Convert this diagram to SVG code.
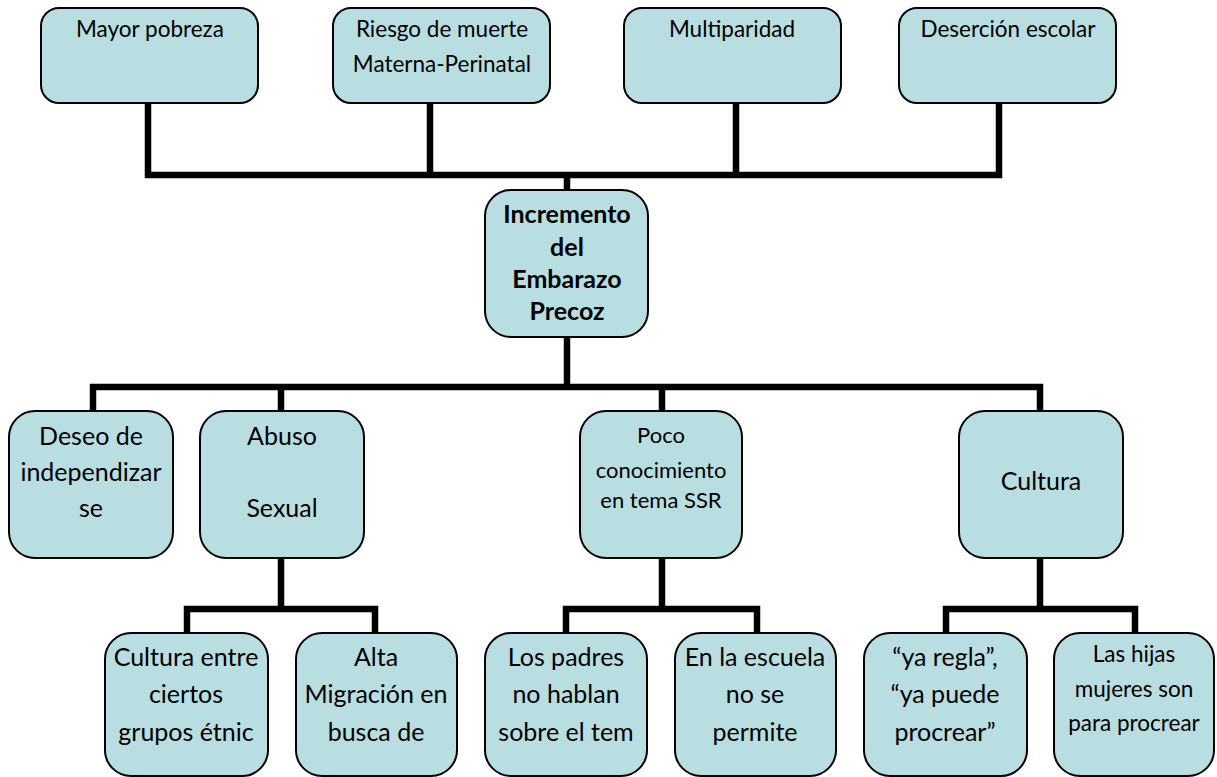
<svg xmlns="http://www.w3.org/2000/svg" width="1217" height="777" viewBox="0 0 1217 777">
<style>
.box{fill:#B8DEE1;stroke:#000;stroke-width:2}
.t{font-family:Lato,"Liberation Sans",sans-serif;fill:#000;text-anchor:middle}
.s22{font-size:22.5px}
.s25{font-size:25px}
.s23{font-size:22px}
.b{font-weight:bold;font-size:25px}
.c{fill:none;stroke:#000;stroke-width:6.5;stroke-linejoin:miter;stroke-linecap:butt}
</style>
<rect width="1217" height="777" fill="#fff"/>
<g id="connectors">
<path class="c" d="M148,103 V175 H999 V103"/>
<path class="c" d="M430,103 V175 M736,103 V175 M567,175 V190"/>
<path class="c" d="M567,337 V387"/>
<path class="c" d="M93,411 V387 H1040 V411"/>
<path class="c" d="M281,387 V411 M662,387 V411"/>
<path class="c" d="M281,558 V609"/>
<path class="c" d="M187,633 V609 H375 V633"/>
<path class="c" d="M662,558 V609"/>
<path class="c" d="M566,633 V609 H757 V633"/>
<path class="c" d="M1040,558 V609"/>
<path class="c" d="M946,633 V609 H1135 V633"/>
</g>
<g id="n-mayor">
<rect class="box" x="41" y="8" width="217" height="95" rx="18"/>
<text class="t s22" x="150" y="37">Mayor pobreza</text>
</g>
<g id="n-riesgo">
<rect class="box" x="333" y="8" width="217" height="95" rx="18"/>
<text class="t s22" x="442" y="37">Riesgo de muerte</text>
<text class="t s22" x="442" y="72">Materna-Perinatal</text>
</g>
<g id="n-multi">
<rect class="box" x="624" y="8" width="217" height="95" rx="18"/>
<text class="t s22" x="732" y="37">Multiparidad</text>
</g>
<g id="n-desercion">
<rect class="box" x="899" y="8" width="217" height="95" rx="18"/>
<text class="t s22" x="1008" y="37">Deserción escolar</text>
</g>
<g id="n-center">
<rect class="box" x="485" y="190" width="163" height="147" rx="26"/>
<text class="t b" x="567" y="223">Incremento</text>
<text class="t b" x="567" y="256">del</text>
<text class="t b" x="567" y="288">Embarazo</text>
<text class="t b" x="567" y="320">Precoz</text>
</g>
<g id="n-deseo">
<rect class="box" x="9" y="411" width="164" height="147" rx="26"/>
<text class="t s25" x="91" y="445">Deseo de</text>
<text class="t s25" x="91" y="481">independizar</text>
<text class="t s25" x="91" y="517">se</text>
</g>
<g id="n-abuso">
<rect class="box" x="200" y="411" width="164" height="147" rx="26"/>
<text class="t s25" x="282" y="445">Abuso</text>
<text class="t s25" x="282" y="517">Sexual</text>
</g>
<g id="n-poco">
<rect class="box" x="580" y="411" width="162" height="147" rx="26"/>
<text class="t s23" x="661" y="443">Poco</text>
<text class="t s23" x="661" y="478">conocimiento</text>
<text class="t s23" x="661" y="508">en tema SSR</text>
</g>
<g id="n-cultura">
<rect class="box" x="959" y="411" width="164" height="147" rx="26"/>
<text class="t s25" x="1041" y="490">Cultura</text>
</g>
<g id="n-etnic">
<rect class="box" x="105" y="633" width="163" height="143" rx="26"/>
<text class="t s25" x="186" y="666">Cultura entre</text>
<text class="t s25" x="186" y="703">ciertos</text>
<text class="t s25" x="186" y="741">grupos étnic</text>
</g>
<g id="n-migracion">
<rect class="box" x="296" y="633" width="161" height="143" rx="26"/>
<text class="t s25" x="376" y="666">Alta</text>
<text class="t s25" x="376" y="703">Migración en</text>
<text class="t s25" x="376" y="741">busca de</text>
</g>
<g id="n-padres">
<rect class="box" x="485" y="633" width="162" height="143" rx="26"/>
<text class="t s25" x="566" y="666">Los padres</text>
<text class="t s25" x="566" y="703">no hablan</text>
<text class="t s25" x="566" y="741">sobre el tem</text>
</g>
<g id="n-escuela">
<rect class="box" x="675" y="633" width="161" height="143" rx="26"/>
<text class="t s25" x="755" y="666">En la escuela</text>
<text class="t s25" x="755" y="703">no se</text>
<text class="t s25" x="755" y="741">permite</text>
</g>
<g id="n-regla">
<rect class="box" x="864" y="633" width="163" height="143" rx="26"/>
<text class="t s25" x="945" y="666">“ya regla”,</text>
<text class="t s25" x="945" y="703">“ya puede</text>
<text class="t s25" x="945" y="741">procrear”</text>
</g>
<g id="n-hijas">
<rect class="box" x="1054" y="633" width="160" height="143" rx="26"/>
<text class="t s22" x="1134" y="662">Las hijas</text>
<text class="t s22" x="1134" y="697">mujeres son</text>
<text class="t s22" x="1134" y="731">para procrear</text>
</g>
</svg>
